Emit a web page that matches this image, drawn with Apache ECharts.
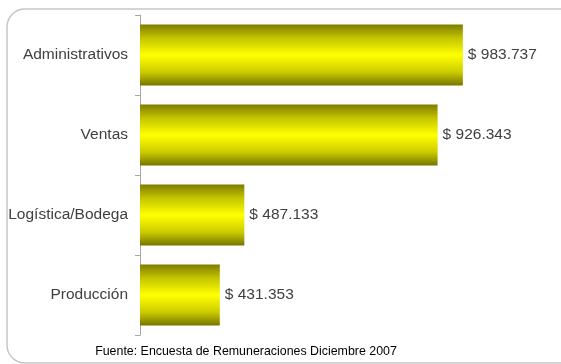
<!DOCTYPE html>
<html>
<head>
<meta charset="utf-8">
<script src="https://cdn.jsdelivr.net/npm/echarts@6/dist/echarts.min.js"></script>
<style>
  html, body { margin: 0; padding: 0; background: #ffffff; }
  #chart { width: 561px; height: 364px; }
</style>
</head>
<body>
<div id="chart"></div>
<script>
// Remuneración promedio por área (pesos)
const categories = ['Administrativos', 'Ventas', 'Logística/Bodega', 'Producción'];
const values = [983737, 926343, 487133, 431353];
const sourceNote = 'Fuente: Encuesta de Remuneraciones Diciembre 2007';

function formatPesos(v) {
  return '$ ' + String(v).replace(/\B(?=(\d{3})+(?!\d))/g, '.');
}

const barGradient = new echarts.graphic.LinearGradient(0, 0, 0, 1, [
  { offset: 0, color: '#7d7d00' },
  { offset: 0.22, color: '#c4c400' },
  { offset: 0.5, color: '#ffff00' },
  { offset: 0.78, color: '#cccc00' },
  { offset: 1, color: '#767600' }
]);

const labelFont = 'Liberation Sans, Arial, sans-serif';

const chart = echarts.init(document.getElementById('chart'), null, { renderer: 'canvas' });
chart.setOption({
  animation: false,
  backgroundColor: '#ffffff',
  grid: { left: 140, right: 47, top: 15, bottom: 29, containLabel: false },
  xAxis: {
    type: 'value',
    min: 250000,
    max: 1100000,
    show: false
  },
  yAxis: {
    type: 'category',
    inverse: true,
    data: categories,
    axisLine: { show: true, lineStyle: { color: '#a6a6a6', width: 1 } },
    axisTick: { show: true, length: 5, lineStyle: { color: '#a6a6a6' } },
    axisLabel: {
      margin: 12,
      color: '#404040',
      fontFamily: labelFont,
      fontSize: 15.5
    },
    splitLine: { show: false }
  },
  series: [{
    type: 'bar',
    data: values,
    barCategoryGap: '24%',
    itemStyle: { color: barGradient },
    label: {
      show: true,
      position: 'right',
      distance: 5,
      color: '#404040',
      fontFamily: labelFont,
      fontSize: 15.5,
      formatter: p => formatPesos(p.value)
    }
  }],
  graphic: [
    {
      type: 'rect',
      silent: true,
      z: -1,
      shape: { x: 7, y: 9, width: 572, height: 354, r: 18 },
      style: { fill: 'none', stroke: '#c6c6c6', lineWidth: 1.5 }
    },
    {
      type: 'text',
      silent: true,
      x: 246,
      y: 352,
      style: {
        text: sourceNote,
        fill: '#000000',
        font: '12.4px "Liberation Sans", Arial, sans-serif',
        align: 'center',
        verticalAlign: 'middle'
      }
    }
  ]
});
</script>
</body>
</html>
